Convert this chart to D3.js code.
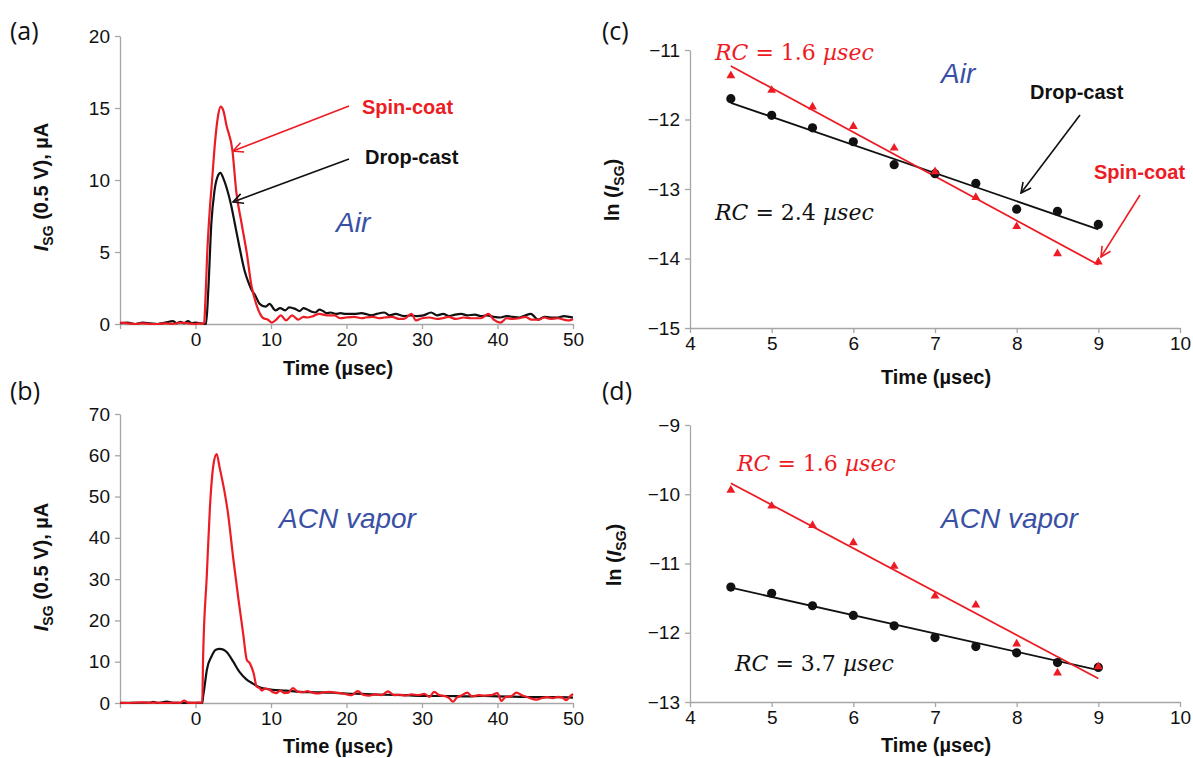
<!DOCTYPE html>
<html>
<head>
<meta charset="utf-8">
<script src="https://cdn.jsdelivr.net/npm/d3@7"></script>
<style>
  body { margin: 0; background: #fff; }
</style>
</head>
<body>
<script>
// ---- data ----
// (a) transient current in air, [time (usec), current (uA)]
const airSpinCoat = [[-10,0.1],[-9,0.05],[-8,0.0],[-7,0.05],[-6,0.0],[-5,0.0],[-4,0.05],[-3,0.0],[-2,0.1],[-1,0.05],[0,0.0],[0.5,0.05],[1,0.0],[1.15,0.1],[1.3,1.5],[1.56,5],[1.9,8],[2.2,10],[2.6,12.7],[3.0,14.5],[3.33,15.1],[3.7,14.8],[4.1,13.8],[4.9,12.0],[5.4,9.2],[6.1,7.0],[6.8,4.9],[7.4,2.7],[8.1,1.3],[9.0,0.4],[9.6,0.3],[10.1,0.1],[10.7,0.3],[11.3,0.6],[12.0,0.25],[12.8,0.6],[13.6,0.3],[14.3,0.5],[14.8,0.45],[15.6,0.55],[16.4,0.7],[17.4,0.6],[18.4,0.6],[19.2,0.4],[19.9,0.45],[21,0.5],[22,0.4],[22.5,0.45],[23.5,0.5],[24.3,0.4],[25,0.45],[26,0.5],[27,0.35],[27.6,0.35],[28.6,0.7],[29.2,0.25],[30,0.4],[31,0.45],[32,0.35],[32.7,0.4],[33.5,0.5],[34.5,0.35],[35.5,0.45],[36.5,0.4],[37.8,0.4],[38.8,0.7],[39.5,0.3],[40.4,0.1],[41.2,0.4],[42,0.35],[42.9,0.4],[43.7,0.5],[44.5,0.3],[45.4,0.3],[46.2,0.45],[47,0.35],[48,0.4],[48.8,0.3],[49.5,0.25],[50,0.35]];
const airDropCast = [[-10,0.05],[-9,0.1],[-8,0.0],[-7,0.1],[-6,0.05],[-5,0.0],[-4,0.1],[-3,0.2],[-2.5,0.05],[-2,0.15],[-1.5,0.05],[-1,0.2],[-0.5,0.05],[0,0.1],[0.7,0.05],[1.4,0.0],[1.7,2.4],[2.1,7.0],[2.5,9.2],[2.9,10.2],[3.3,10.5],[3.7,10.1],[4.1,9.5],[4.7,8.3],[5.2,7.0],[5.8,5.4],[6.5,3.7],[7.0,2.9],[7.4,2.4],[7.9,2.0],[8.5,1.4],[9.3,1.2],[9.8,1.4],[10.6,0.95],[11.2,1.1],[11.9,0.95],[12.4,1.15],[13.2,1.05],[13.8,0.9],[14.3,1.1],[14.8,1.0],[15.4,0.85],[15.9,0.8],[16.4,1.0],[16.9,0.9],[17.4,0.75],[17.9,0.8],[18.6,0.7],[19.2,0.75],[19.9,0.7],[21,0.7],[22,0.75],[22.5,0.7],[23.3,0.6],[24,0.7],[25,0.8],[25.7,0.6],[26.5,0.7],[27.6,0.55],[28.5,0.6],[29.3,0.55],[30.2,0.6],[31.2,0.8],[32,0.6],[32.8,0.7],[33.6,0.55],[34.4,0.65],[35.2,0.7],[36,0.6],[37,0.65],[37.8,0.55],[38.6,0.6],[39.5,0.5],[40.4,0.45],[41.2,0.55],[42,0.5],[42.9,0.45],[43.7,0.6],[44.4,0.7],[45.4,0.3],[46.2,0.5],[47,0.45],[48,0.45],[48.8,0.55],[49.5,0.5],[50,0.45]];

// (b) transient current in ACN vapor
const acnSpinCoat = [[-10,0.1],[-9,0.0],[-8,0.1],[-7,0.15],[-6,0.05],[-5,0.1],[-4,0.0],[-3,0.1],[-2,0.05],[-1.5,0.6],[-1,0.1],[0,0.05],[0.5,0.1],[0.9,0.1],[1.0,10.4],[1.5,31],[1.9,47],[2.4,58],[2.8,60.3],[3.2,57],[3.9,50.6],[4.3,46],[5.0,35],[5.7,25],[6.3,17],[6.8,10.4],[7.2,9.6],[7.7,7.2],[8.1,4.0],[8.5,3.6],[8.8,3.0],[9.2,3.5],[9.8,3.2],[10.3,2.6],[10.7,2.4],[11.2,3.0],[11.8,2.4],[12.3,2.5],[12.9,3.6],[13.5,2.8],[14.2,2.6],[14.8,2.9],[15.5,2.5],[16.2,2.3],[17,2.6],[17.8,2.7],[18.5,2.5],[19.2,2.4],[20,2.1],[20.7,1.9],[21.5,2.9],[22.2,2.0],[23,1.8],[23.8,2.1],[24.6,1.9],[25.5,2.8],[26.3,1.9],[27,2.0],[27.8,1.8],[28.6,2.1],[29.5,1.9],[30.3,2.2],[31,1.5],[31.6,2.7],[32.3,1.9],[33,1.7],[33.6,1.2],[34.1,0.3],[34.6,1.3],[35.2,1.8],[36,2.5],[36.6,1.6],[37.5,1.9],[38.3,1.8],[39.1,1.9],[40,2.4],[40.5,0.5],[41.1,1.5],[41.8,1.6],[42.5,2.5],[43.3,1.8],[44,1.4],[44.6,1.0],[45.2,0.8],[45.9,1.2],[46.6,1.4],[47.3,1.2],[48,1.5],[48.6,1.3],[49.1,0.7],[49.6,1.6],[50,2.2]];
const acnDropCast = [[-10,0.0],[-8,0.05],[-6,0.1],[-5.6,0.3],[-5,0.0],[-3.8,0.35],[-3,0.05],[0,0.05],[0.9,0.05],[1.0,1.5],[1.2,4.0],[1.5,8.0],[2.1,11.2],[2.7,12.9],[3.2,13.1],[3.6,13.0],[4.1,12.4],[5.0,10.0],[5.8,7.6],[6.7,5.8],[7.6,4.7],[8.5,3.8],[10.2,3.2],[12,3.0],[13.8,2.7],[16,2.6],[18,2.5],[20,2.3],[22,2.2],[25,2.0],[28,1.9],[30,1.7],[33,1.7],[36,1.6],[38,1.7],[40,1.6],[43,1.5],[46,1.4],[48,1.4],[50,1.3]];

// (c), (d) ln(I) vs time
const fitTimes = [4.5, 5, 5.5, 6, 6.5, 7, 7.5, 8, 8.5, 9];
const lnAirDrop = [-11.70, -11.94, -12.12, -12.32, -12.65, -12.78, -12.92, -13.29, -13.32, -13.51];
const lnAirSpin = [-11.37, -11.58, -11.82, -12.10, -12.41, -12.75, -13.12, -13.54, -13.93, -14.05];
const lnAcnDrop = [-11.34, -11.43, -11.61, -11.75, -11.90, -12.07, -12.20, -12.29, -12.43, -12.50];
const lnAcnSpin = [-9.94, -10.17, -10.45, -10.70, -11.04, -11.47, -11.60, -12.16, -12.58, -12.49];
// trend line end points [t, ln I]
const fitAirDrop = [[4.5, -11.76], [9, -13.58]];
const fitAirSpin = [[4.5, -11.23], [9, -14.09]];
const fitAcnDrop = [[4.5, -11.35], [9, -12.54]];
const fitAcnSpin = [[4.5, -9.84], [9, -12.66]];

const timeTicks = [-10, 0, 10, 20, 30, 40, 50];
const lnTicks = [4, 5, 6, 7, 8, 9, 10];

const RED = "#ed1c24", BLACK = "#111", BLUE = "#3a50a5", AXIS = "#a6a6a6";
const SANS = "'Liberation Sans', Arial, sans-serif";

const svg = d3.select("body").append("svg")
  .attr("width", 1193).attr("height", 758)
  .attr("font-family", SANS);

// arrow head, open V
const defs = svg.append("defs");
[["arrRed", RED], ["arrBlack", BLACK]].forEach(function(m) {
  defs.append("marker")
    .attr("id", m[0]).attr("viewBox", "0 0 12 12")
    .attr("refX", 11).attr("refY", 6)
    .attr("markerWidth", 12).attr("markerHeight", 12)
    .attr("markerUnits", "userSpaceOnUse")
    .attr("orient", "auto")
    .append("path").attr("d", "M1,1 L11,6 L1,11")
    .attr("fill", "none").attr("stroke", m[1]).attr("stroke-width", 1.6);
});

function styleAxis(g) {
  g.attr("font-family", SANS);
  g.selectAll("path, line").attr("stroke", AXIS).attr("stroke-width", 1.3);
  g.selectAll("text").attr("font-size", 19).attr("fill", "#111");
}

function drawAxes(x, y, xTicks, yTicks, xFmt, yFmt) {
  const gx = svg.append("g").attr("transform", "translate(0," + y.range()[0] + ")")
    .call(d3.axisBottom(x).tickValues(xTicks).tickSize(5).tickSizeOuter(0).tickPadding(4).tickFormat(xFmt));
  styleAxis(gx);
  const gy = svg.append("g").attr("transform", "translate(" + x.range()[0] + ",0)")
    .call(d3.axisLeft(y).tickValues(yTicks).tickSize(5).tickSizeOuter(0).tickPadding(5).tickFormat(yFmt));
  styleAxis(gy);
}

function label(x, y, str, opts) {
  opts = opts || {};
  return svg.append("text").attr("x", x).attr("y", y)
    .attr("dominant-baseline", "central")
    .attr("text-anchor", opts.anchor || "start")
    .attr("font-size", opts.size || 20)
    .attr("font-weight", opts.weight || "normal")
    .attr("font-style", opts.style || "normal")
    .attr("fill", opts.fill || BLACK)
    .attr("font-family", opts.family || SANS)
    .text(str);
}

function timeTitle(cx, cy) {
  label(cx, cy, "Time (\u00b5sec)", { anchor: "middle", weight: "bold" });
}

function currentTitle(cx, cy) {
  const t = svg.append("text").attr("transform", "translate(" + cx + "," + cy + ") rotate(-90)")
    .attr("text-anchor", "middle").attr("font-size", 20).attr("font-weight", "bold").attr("fill", BLACK);
  t.append("tspan").attr("font-style", "italic").text("I");
  t.append("tspan").attr("font-size", 14).attr("dy", 5).text("SG");
  t.append("tspan").attr("dy", -5).text(" (0.5 V), \u00b5A");
}

function lnTitle(cx, cy) {
  const t = svg.append("text").attr("transform", "translate(" + cx + "," + cy + ") rotate(-90)")
    .attr("text-anchor", "middle").attr("font-size", 20).attr("font-weight", "bold").attr("fill", BLACK);
  t.append("tspan").text("ln (");
  t.append("tspan").attr("font-style", "italic").text("I");
  t.append("tspan").attr("font-size", 14).attr("dy", 5).text("SG");
  t.append("tspan").attr("dy", -5).text(")");
}

function rcLabel(x, y, val, color) {
  const t = svg.append("text").attr("x", x).attr("y", y).attr("dominant-baseline", "central")
    .attr("font-family", "'DejaVu Serif', 'Liberation Serif', serif").attr("font-size", 22).attr("fill", color);
  t.append("tspan").attr("font-style", "italic").text("RC");
  t.append("tspan").text(" =  " + val + " ");
  t.append("tspan").attr("font-style", "italic").text("\u00b5sec");
}

function panelTag(x, y, str) {
  label(x, y, str, { size: 25, family: "'Open Sans', sans-serif" });
}

function arrow(x1, y1, x2, y2, color, id) {
  svg.append("line").attr("x1", x1).attr("y1", y1).attr("x2", x2).attr("y2", y2)
    .attr("stroke", color).attr("stroke-width", 1.6).attr("marker-end", "url(#" + id + ")");
}

function transientPanel(x, y, series, yTicks) {
  drawAxes(x, y, timeTicks, yTicks, function(d) { return d === -10 ? "" : d; }, d3.format("d"));
  const line = d3.line().x(function(d) { return x(d[0]); }).y(function(d) { return y(d[1]); })
    .curve(d3.curveMonotoneX);
  series.forEach(function(s) {
    svg.append("path").datum(s.data).attr("d", line)
      .attr("fill", "none").attr("stroke", s.color).attr("stroke-width", 2.2)
      .attr("stroke-linejoin", "round");
  });
}

function lnPanel(x, y, yTicks, circ, tri, fitC, fitT) {
  drawAxes(x, y, lnTicks, yTicks, d3.format("d"), d3.format("d"));
  const line = d3.line().x(function(d) { return x(d[0]); }).y(function(d) { return y(d[1]); });
  [[fitC, BLACK], [fitT, RED]].forEach(function(f) {
    svg.append("path").datum(f[0]).attr("d", line)
      .attr("fill", "none").attr("stroke", f[1]).attr("stroke-width", 1.8);
  });
  svg.append("g").selectAll("circle").data(fitTimes).enter().append("circle")
    .attr("cx", function(d) { return x(d); })
    .attr("cy", function(d, i) { return y(circ[i]); })
    .attr("r", 4.6).attr("fill", BLACK);
  svg.append("g").selectAll("path").data(fitTimes).enter().append("path")
    .attr("d", d3.symbol(d3.symbolTriangle).size(34))
    .attr("transform", function(d, i) { return "translate(" + x(d) + "," + y(tri[i]) + ")"; })
    .attr("fill", RED);
}

// ---- (a) ----
const xA = d3.scaleLinear().domain([-10, 50]).range([120, 573]);
const yA = d3.scaleLinear().domain([0, 20]).range([324, 36]);
transientPanel(xA, yA, [{ data: airDropCast, color: BLACK }, { data: airSpinCoat, color: RED }], [0, 5, 10, 15, 20]);
panelTag(10, 30, "(a)");
currentTitle(48, 187);
timeTitle(338, 368);
label(362, 107, "Spin-coat", { weight: "bold", fill: RED });
label(365, 157, "Drop-cast", { weight: "bold" });
label(336, 222, "Air", { size: 28, style: "italic", fill: BLUE });
arrow(349, 106, 233, 151, RED, "arrRed");
arrow(349, 159, 233, 202, BLACK, "arrBlack");

// ---- (b) ----
const xB = d3.scaleLinear().domain([-10, 50]).range([120, 573]);
const yB = d3.scaleLinear().domain([0, 70]).range([703, 414]);
transientPanel(xB, yB, [{ data: acnDropCast, color: BLACK }, { data: acnSpinCoat, color: RED }], [0, 10, 20, 30, 40, 50, 60, 70]);
panelTag(10, 390, "(b)");
currentTitle(48, 567);
timeTitle(338, 746);
label(279, 518, "ACN vapor", { size: 28, style: "italic", fill: BLUE });

// ---- (c) ----
const xC = d3.scaleLinear().domain([4, 10]).range([690, 1180]);
const yC = d3.scaleLinear().domain([-15, -11]).range([328, 50]);
lnPanel(xC, yC, [-15, -14, -13, -12, -11], lnAirDrop, lnAirSpin, fitAirDrop, fitAirSpin);
panelTag(602, 30, "(c)");
lnTitle(619, 190);
timeTitle(936, 377);
rcLabel(715, 52, "1.6", RED);
rcLabel(715, 212, "2.4", BLACK);
label(941, 73, "Air", { size: 28, style: "italic", fill: BLUE });
label(1030, 92, "Drop-cast", { weight: "bold" });
label(1094, 172, "Spin-coat", { weight: "bold", fill: RED });
arrow(1080, 115, 1021, 193, BLACK, "arrBlack");
arrow(1140, 195, 1101, 257, RED, "arrRed");

// ---- (d) ----
const xD = d3.scaleLinear().domain([4, 10]).range([690, 1180]);
const yD = d3.scaleLinear().domain([-13, -9]).range([702, 425]);
lnPanel(xD, yD, [-13, -12, -11, -10, -9], lnAcnDrop, lnAcnSpin, fitAcnDrop, fitAcnSpin);
panelTag(602, 390, "(d)");
lnTitle(621, 555);
timeTitle(936, 745);
rcLabel(737, 463, "1.6", RED);
rcLabel(735, 663, "3.7", BLACK);
label(941, 518, "ACN vapor", { size: 28, style: "italic", fill: BLUE });
</script>
</body>
</html>
